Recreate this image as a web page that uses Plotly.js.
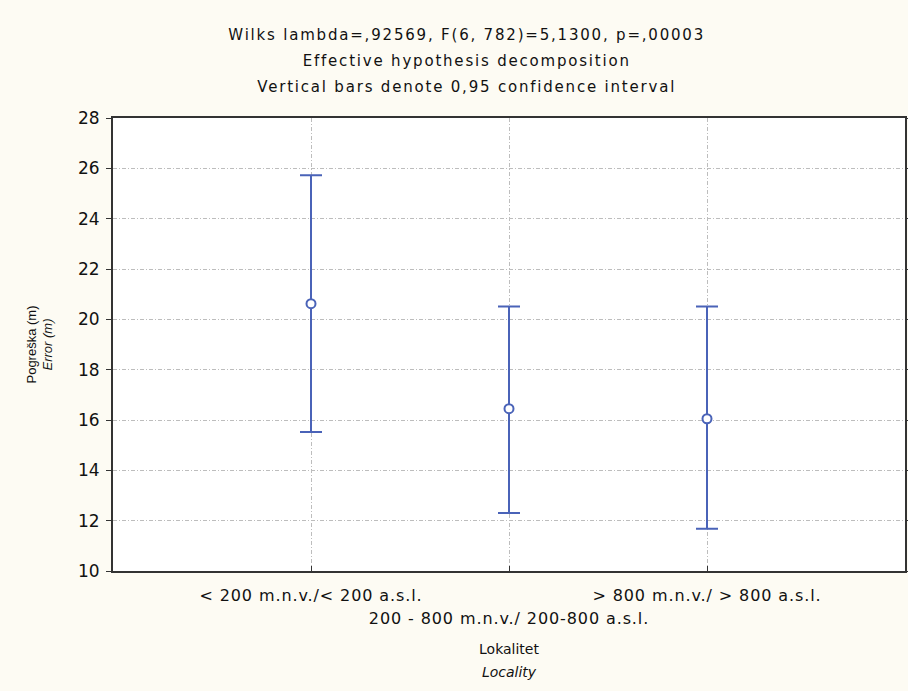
<!DOCTYPE html>
<html>
<head>
<meta charset="utf-8">
<script src="https://cdn.plot.ly/plotly-3.0.1.min.js"></script>
<style>
html,body{margin:0;padding:0;background:#FDFBF3;}
#chart{width:908px;height:691px;}
#chart .gtitle{letter-spacing:1.8px;}
#chart .xtick text{letter-spacing:0.9px;}
</style>
</head>
<body>
<div id="chart"></div>
<script>
const categories = ["< 200 m.n.v./< 200 a.s.l.", "200 - 800 m.n.v./ 200-800 a.s.l.", "> 800 m.n.v./ > 800 a.s.l."];
const means = [20.62, 16.45, 16.05];
const upper = [25.73, 20.51, 20.51];
const lower = [15.52, 12.30, 11.68];
const yTicks = [10, 12, 14, 16, 18, 20, 22, 24, 26, 28];
const titleLines = ["Wilks lambda=,92569, F(6, 782)=5,1300, p=,00003",
                    "Effective hypothesis decomposition",
                    "Vertical bars denote 0,95 confidence interval"];

const xIdx = categories.map((c, i) => i);
const span = (t, px) => '<span style="font-size:' + px + 'px">' + t + '</span>';
// the middle label drops to a second row, as in the reference
const tickLabels = categories.map((c, i) => i === 1 ? '<br>' + span(c, 16) : span(c, 16));
const errPlus = upper.map((u, i) => u - means[i]);
const errMinus = lower.map((l, i) => means[i] - l);

const blue = '#4A63B8';
const trace = {
  type: 'scatter',
  mode: 'markers',
  x: xIdx,
  y: means,
  marker: {symbol: 'circle', size: 9, color: '#ffffff', line: {color: blue, width: 2}},
  error_y: {type: 'data', symmetric: false, array: errPlus, arrayminus: errMinus,
            color: blue, thickness: 2, width: 11},
  hoverinfo: 'skip'
};

const ff = 'DejaVu Sans, Verdana, sans-serif';
const layout = {
  width: 908, height: 691,
  paper_bgcolor: '#FDFBF3',
  plot_bgcolor: '#ffffff',
  font: {family: ff, size: 14, color: '#111'},
  showlegend: false,
  margin: {l: 113, r: 3, t: 118, b: 120},
  title: {
    text: titleLines.map(t => span(t, 15)).join('<br>'),
    font: {family: ff, size: 20, color: '#111'},
    xref: 'container', x: 0.514, xanchor: 'center',
    yref: 'container', y: 1 - 40/691, yanchor: 'top'
  },
  xaxis: {
    range: [-1, 3],
    tickmode: 'array', tickvals: xIdx, ticktext: tickLabels,
    tickangle: 0,
    ticks: 'inside', ticklen: 5, tickcolor: '#333',
    ticklabelstandoff: 6,
    showline: true, linecolor: '#333', linewidth: 2, mirror: true,
    showgrid: true, gridcolor: '#BDBDBD', griddash: '4px,2px,1px,2px', gridwidth: 1,
    zeroline: false,
    tickfont: {family: ff, size: 18, color: '#111'},
    title: {text: span('Lokalitet', 14) + '<br>' + span('<i>Locality</i>', 14), standoff: 14,
            font: {family: ff, size: 18, color: '#111'}}
  },
  yaxis: {
    range: [10, 28],
    tickmode: 'array', tickvals: yTicks,
    ticks: 'outside', ticklen: 5, tickcolor: '#333',
    ticklabelstandoff: 3,
    showline: true, linecolor: '#333', linewidth: 2, mirror: 'ticks',
    showgrid: true, gridcolor: '#BDBDBD', griddash: '4px,2px,1px,2px', gridwidth: 1,
    zeroline: false,
    tickfont: {family: ff, size: 17, color: '#111'},
    title: {text: 'Pogreška (m)<br><i>Error (m)</i>', standoff: 22,
            font: {family: 'Liberation Sans, Arial, sans-serif', size: 13, color: '#111'}}
  }
};

Plotly.newPlot('chart', [trace], layout, {staticPlot: true, displayModeBar: false});
</script>
</body>
</html>
